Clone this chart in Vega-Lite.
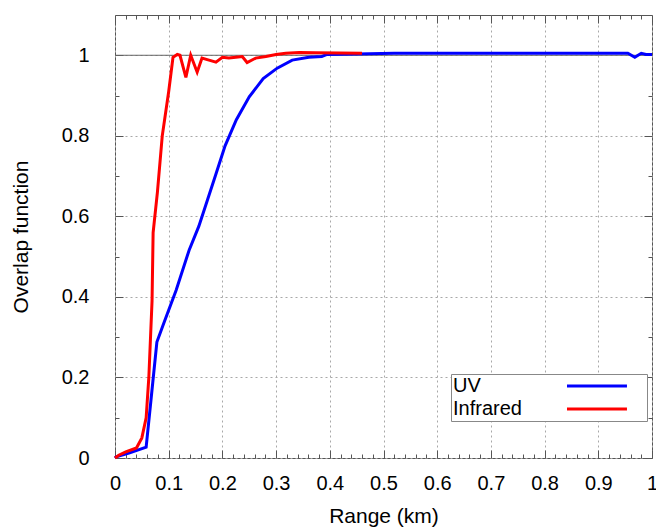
{
  "$schema": "https://vega.github.io/schema/vega-lite/v6.json",
  "width": 537,
  "height": 443,
  "autosize": "none",
  "padding": {"left": 115, "top": 15, "right": 4, "bottom": 69},
  "background": "white",
  "config": {
    "font": "Liberation Sans",
    "view": {"stroke": "#555555", "strokeWidth": 1},
    "axis": {
      "domain": false,
      "labelFont": "Liberation Sans",
      "labelFontSize": 20,
      "labelColor": "#000000",
      "titleFont": "Liberation Sans",
      "titleFontSize": 21,
      "titleFontWeight": "normal",
      "titleColor": "#000000",
      "tickColor": "#555555",
      "labelFlush": false,
      "labelOverlap": false,
      "labelBound": false,
      "gridColor": "#a8a8a8",
      "gridDash": [2, 3],
      "gridWidth": 1
    }
  },
  "datasets": {
    "curves": [
      {"series": "UV", "range": 0, "overlap": 0},
      {"series": "UV", "range": 0.002, "overlap": 0.003},
      {"series": "UV", "range": 0.026, "overlap": 0.012},
      {"series": "UV", "range": 0.058, "overlap": 0.027},
      {"series": "UV", "range": 0.067, "overlap": 0.144},
      {"series": "UV", "range": 0.078, "overlap": 0.288},
      {"series": "UV", "range": 0.091, "overlap": 0.335},
      {"series": "UV", "range": 0.114, "overlap": 0.417},
      {"series": "UV", "range": 0.138, "overlap": 0.516},
      {"series": "UV", "range": 0.156, "overlap": 0.575},
      {"series": "UV", "range": 0.172, "overlap": 0.64},
      {"series": "UV", "range": 0.188, "overlap": 0.705},
      {"series": "UV", "range": 0.205, "overlap": 0.775},
      {"series": "UV", "range": 0.226, "overlap": 0.84},
      {"series": "UV", "range": 0.25, "overlap": 0.897},
      {"series": "UV", "range": 0.276, "overlap": 0.942},
      {"series": "UV", "range": 0.302, "overlap": 0.968},
      {"series": "UV", "range": 0.33, "overlap": 0.988},
      {"series": "UV", "range": 0.361, "overlap": 0.995},
      {"series": "UV", "range": 0.385, "overlap": 0.997},
      {"series": "UV", "range": 0.395, "overlap": 1.002},
      {"series": "UV", "range": 0.45, "overlap": 1.003},
      {"series": "UV", "range": 0.52, "overlap": 1.005},
      {"series": "UV", "range": 0.6, "overlap": 1.005},
      {"series": "UV", "range": 0.7, "overlap": 1.005},
      {"series": "UV", "range": 0.8, "overlap": 1.005},
      {"series": "UV", "range": 0.9, "overlap": 1.005},
      {"series": "UV", "range": 0.955, "overlap": 1.005},
      {"series": "UV", "range": 0.968, "overlap": 0.995},
      {"series": "UV", "range": 0.98, "overlap": 1.005},
      {"series": "UV", "range": 0.989, "overlap": 1.002},
      {"series": "UV", "range": 1.0, "overlap": 1.002},
      {"series": "Infrared", "range": 0, "overlap": 0},
      {"series": "Infrared", "range": 0.007, "overlap": 0.007},
      {"series": "Infrared", "range": 0.02, "overlap": 0.015},
      {"series": "Infrared", "range": 0.04, "overlap": 0.025},
      {"series": "Infrared", "range": 0.05, "overlap": 0.05},
      {"series": "Infrared", "range": 0.058, "overlap": 0.1},
      {"series": "Infrared", "range": 0.063, "overlap": 0.2},
      {"series": "Infrared", "range": 0.069, "overlap": 0.39},
      {"series": "Infrared", "range": 0.071, "overlap": 0.56},
      {"series": "Infrared", "range": 0.079, "overlap": 0.66},
      {"series": "Infrared", "range": 0.088, "overlap": 0.8},
      {"series": "Infrared", "range": 0.1, "overlap": 0.91},
      {"series": "Infrared", "range": 0.108, "overlap": 0.995},
      {"series": "Infrared", "range": 0.116, "overlap": 1.002},
      {"series": "Infrared", "range": 0.121, "overlap": 1.0},
      {"series": "Infrared", "range": 0.132, "overlap": 0.945},
      {"series": "Infrared", "range": 0.141, "overlap": 1.0},
      {"series": "Infrared", "range": 0.153, "overlap": 0.958},
      {"series": "Infrared", "range": 0.162, "overlap": 0.993},
      {"series": "Infrared", "range": 0.175, "overlap": 0.988},
      {"series": "Infrared", "range": 0.188, "overlap": 0.983},
      {"series": "Infrared", "range": 0.2, "overlap": 0.995},
      {"series": "Infrared", "range": 0.212, "overlap": 0.993},
      {"series": "Infrared", "range": 0.225, "overlap": 0.995},
      {"series": "Infrared", "range": 0.237, "overlap": 0.997},
      {"series": "Infrared", "range": 0.246, "overlap": 0.982},
      {"series": "Infrared", "range": 0.262, "overlap": 0.993},
      {"series": "Infrared", "range": 0.281, "overlap": 0.997},
      {"series": "Infrared", "range": 0.3, "overlap": 1.002},
      {"series": "Infrared", "range": 0.318, "overlap": 1.005},
      {"series": "Infrared", "range": 0.343, "overlap": 1.007},
      {"series": "Infrared", "range": 0.374, "overlap": 1.006},
      {"series": "Infrared", "range": 0.46, "overlap": 1.005}
    ],
    "ref": [{"x0": 0, "x1": 1, "level": 1}]
  },
  "resolve": {"axis": {"x": "independent", "y": "independent"}},
  "layer": [
    {
      "data": {"name": "ref"},
      "mark": {"type": "rule", "color": "#666666", "strokeWidth": 1},
      "encoding": {
        "x": {"field": "x0", "type": "quantitative", "scale": {"domain": [0, 1], "nice": false, "zero": false},
              "axis": {"orient": "bottom", "title": null, "labels": false, "grid": false, "ticks": true, "tickSize": -4,
                       "values": [0.02,0.04,0.06,0.08,0.12,0.14,0.16,0.18,0.22,0.24,0.26,0.28,0.32,0.34,0.36,0.38,0.42,0.44,0.46,0.48,0.52,0.54,0.56,0.58,0.62,0.64,0.66,0.68,0.72,0.74,0.76,0.78,0.82,0.84,0.86,0.88,0.92,0.94,0.96,0.98]}},
        "x2": {"field": "x1"},
        "y": {"field": "level", "type": "quantitative", "scale": {"domain": [0, 1.1], "nice": false, "zero": false},
              "axis": {"orient": "left", "title": null, "labels": false, "grid": false, "ticks": true, "tickSize": -4,
                       "values": [0.1, 0.3, 0.5, 0.7, 0.9]}}
      }
    },
    {
      "data": {"name": "ref"},
      "mark": {"type": "rule", "opacity": 0},
      "encoding": {
        "x": {"field": "x0", "type": "quantitative",
              "axis": {"orient": "top", "title": null, "labels": false, "grid": false, "ticks": true, "tickSize": -4,
                       "values": [0.02,0.04,0.06,0.08,0.12,0.14,0.16,0.18,0.22,0.24,0.26,0.28,0.32,0.34,0.36,0.38,0.42,0.44,0.46,0.48,0.52,0.54,0.56,0.58,0.62,0.64,0.66,0.68,0.72,0.74,0.76,0.78,0.82,0.84,0.86,0.88,0.92,0.94,0.96,0.98]}},
        "x2": {"field": "x1"},
        "y": {"field": "level", "type": "quantitative",
              "axis": {"orient": "right", "title": null, "labels": false, "grid": false, "ticks": true, "tickSize": -4,
                       "values": [0.1, 0.3, 0.5, 0.7, 0.9]}}
      }
    },
    {
      "data": {"name": "curves"},
      "transform": [{"filter": "datum.series === 'UV'"}],
      "mark": {"type": "line", "strokeWidth": 3, "interpolate": "linear"},
      "encoding": {
        "x": {"field": "range", "type": "quantitative",
              "axis": {"orient": "bottom", "title": "Range (km)", "grid": true, "tickSize": -8, "labelPadding": 23,
                       "titlePadding": 12, "format": "~g",
                       "values": [0, 0.1, 0.2, 0.3, 0.4, 0.5, 0.6, 0.7, 0.8, 0.9, 1]}},
        "y": {"field": "overlap", "type": "quantitative",
              "axis": {"orient": "left", "title": "Overlap function", "grid": true, "tickSize": -8, "labelPadding": 34,
                       "titlePadding": 30, "format": "~g",
                       "values": [0, 0.2, 0.4, 0.6, 0.8, 1]}},
        "color": {"field": "series", "type": "nominal",
                  "scale": {"domain": ["UV", "Infrared"], "range": ["#0000ff", "#ff0000"]},
                  "legend": {"orient": "none", "legendX": 336, "legendY": 359, "title": null,
                             "symbolType": "M12.235,0H19.29M20.6,0", "symbolSize": 289, "symbolStrokeWidth": 3,
                             "symbolFillColor": "transparent", "symbolOffset": 0, "labelOffset": -20,
                             "rowPadding": 3, "padding": 2,
                             "labelFont": "Liberation Sans", "labelFontSize": 20, "labelColor": "#000000",
                             "strokeColor": "#888888", "fillColor": "#ffffff", "labelLimit": 200}}
      }
    },
    {
      "data": {"name": "curves"},
      "transform": [{"filter": "datum.series === 'Infrared'"}],
      "mark": {"type": "line", "strokeWidth": 3, "interpolate": "linear"},
      "encoding": {
        "x": {"field": "range", "type": "quantitative",
              "axis": {"orient": "top", "title": null, "labels": false, "grid": false, "tickSize": -8,
                       "values": [0, 0.1, 0.2, 0.3, 0.4, 0.5, 0.6, 0.7, 0.8, 0.9, 1]}},
        "y": {"field": "overlap", "type": "quantitative",
              "axis": {"orient": "right", "title": null, "labels": false, "grid": false, "tickSize": -8,
                       "values": [0, 0.2, 0.4, 0.6, 0.8, 1]}},
        "color": {"field": "series", "type": "nominal"}
      }
    }
  ]
}
